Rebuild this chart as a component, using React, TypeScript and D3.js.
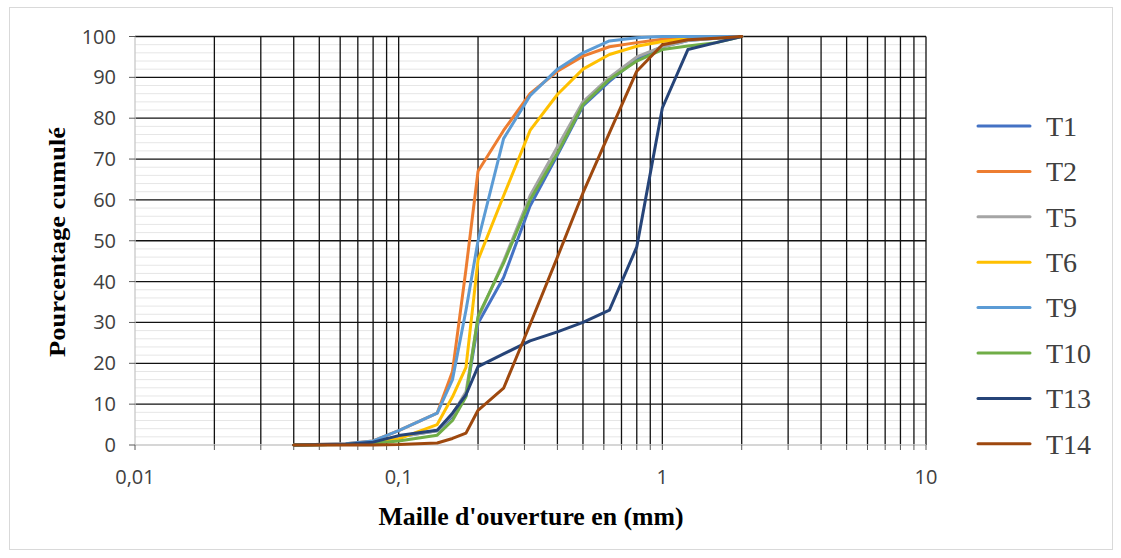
import React from "react";
import * as d3 from "d3";

const W = 1121;
const H = 558;

// sieve openings (mm), shared by all series
const sieves = [0.04, 0.063, 0.08, 0.1, 0.14, 0.16, 0.18, 0.2, 0.25, 0.315, 0.4, 0.5, 0.63, 0.8, 1, 1.25, 1.6, 2];

const t1 = [0, 0.2, 0.8, 2, 3.5, 7, 12, 29.8, 41, 58.5, 71, 83, 89, 94.5, 97.5, 99, 99.6, 100];
const t2 = [0, 0.3, 1, 3.5, 7.8, 18, 43, 67, 77, 86, 91.5, 95.2, 97.5, 98.5, 99.3, 99.8, 100, 100];
const t5 = [0, 0.2, 0.8, 2, 3.5, 7.5, 13, 31, 45, 61, 73, 84, 90, 95, 97.5, 99, 99.6, 100];
const t6 = [0, 0.2, 0.6, 1.5, 5, 11.8, 19, 45.3, 61, 77, 85.8, 92, 95.6, 97.6, 98.8, 99.5, 100, 100];
const t9 = [0, 0.3, 1, 3.5, 7.8, 16, 33, 50, 75, 85.5, 92, 96, 98.9, 99.7, 100, 100, 100, 100];
const t10 = [0, 0.1, 0.4, 1, 2.4, 6, 11.8, 31.5, 44.5, 60, 71.5, 83.3, 89.5, 94, 96.8, 97.7, 98.5, 100];
const t13 = [0, 0.2, 0.7, 2.3, 3.6, 7.8, 12.3, 19.2, 22.3, 25.5, 27.7, 30, 33, 48.5, 82.5, 96.8, 98.5, 100];
const t14 = [0, 0, 0, 0.1, 0.5, 1.6, 2.9, 8.5, 13.9, 29.5, 46, 61.7, 76.4, 91.5, 98, 99.2, 99.6, 100];

const seriesNames = ["T1", "T2", "T5", "T6", "T9", "T10", "T13", "T14"];
const seriesValues = [t1, t2, t5, t6, t9, t10, t13, t14];
const seriesColors = ["#4472C4", "#ED7D31", "#A5A5A5", "#FFC000", "#5B9BD5", "#70AD47", "#264478", "#9E480E"];

const xTickValues = [0.01, 0.1, 1, 10];
const xTickLabels = ["0,01", "0,1", "1", "10"];
const yTickValues = [0, 10, 20, 30, 40, 50, 60, 70, 80, 90, 100];

const x = d3.scaleLog().domain([0.01, 10]).range([135, 926]);
const y = d3.scaleLinear().domain([0, 100]).range([445, 36.5]);

// every 1-9 step in each decade
const logLines: number[] = [];
[0.01, 0.1, 1].forEach((d) => {
  for (let k = 1; k <= 9; k++) logLines.push(d * k);
});
logLines.push(10);

const minorY = d3.range(0, 100, 2).filter((v) => v % 10 !== 0);

const line = d3
  .line<[number, number]>()
  .x((d) => x(d[0]))
  .y((d) => y(d[1]));

export default function App() {
  const [x0, x1] = x.range();
  const [y0, y1] = y.range();
  return (
    <svg width={W} height={H} style={{ position: "absolute", left: 0, top: 0, background: "#fff" }}>
      <rect x={9.5} y={7.5} width={1103} height={542} fill="#fff" stroke="#d9d9d9" />

      {/* minor horizontal grid */}
      {minorY.map((v) => (
        <line key={"my" + v} x1={x0} x2={x1} y1={y(v)} y2={y(v)} stroke="#e6e6e6" strokeWidth={1} />
      ))}
      {/* major horizontal grid */}
      {yTickValues.slice(1).map((v) => (
        <line key={"y" + v} x1={x0} x2={x1} y1={y(v)} y2={y(v)} stroke="#111" strokeWidth={1.3} />
      ))}
      {/* vertical log grid */}
      {logLines.slice(1).map((v) => (
        <line key={"x" + v} x1={x(v)} x2={x(v)} y1={y0} y2={y1} stroke="#111" strokeWidth={1.3} />
      ))}
      {/* axes */}
      <line x1={x0} x2={x0} y1={y0} y2={y1} stroke="#c8c8c8" strokeWidth={1.3} />
      <line x1={x0} x2={x1} y1={y0} y2={y0} stroke="#c8c8c8" strokeWidth={1.3} />
      {logLines.map((v) => (
        <line key={"xt" + v} x1={x(v)} x2={x(v)} y1={y0} y2={y0 + 5} stroke="#595959" strokeWidth={1} />
      ))}
      {yTickValues.map((v) => (
        <line key={"yt" + v} x1={x0 - 6} x2={x0} y1={y(v)} y2={y(v)} stroke="#595959" strokeWidth={1} />
      ))}

      {/* series */}
      {seriesValues.map((vals, i) => (
        <path
          key={seriesNames[i]}
          d={line(sieves.map((s, j) => [s, vals[j]] as [number, number])) || ""}
          fill="none"
          stroke={seriesColors[i]}
          strokeWidth={3}
          strokeLinejoin="round"
          strokeLinecap="round"
        />
      ))}

      {/* tick labels */}
      {yTickValues.map((v) => (
        <text key={"yl" + v} x={116} y={y(v)} dy="0.35em" textAnchor="end" fontFamily="Open Sans" fontSize={20} fill="#404040">
          {v}
        </text>
      ))}
      {xTickValues.map((v, i) => (
        <text key={"xl" + v} x={x(v)} y={477} dy="0.35em" textAnchor="middle" fontFamily="Open Sans" fontSize={20} fill="#404040">
          {xTickLabels[i]}
        </text>
      ))}

      {/* axis titles */}
      <text
        x={531}
        y={516}
        dy="0.35em"
        textAnchor="middle"
        fontFamily="Liberation Serif"
        fontWeight="bold"
        fontSize={26}
        textLength={305}
        lengthAdjust="spacingAndGlyphs"
        fill="#000"
      >
        Maille d'ouverture en (mm)
      </text>
      <text
        transform="translate(57,242) rotate(-90)"
        dy="0.35em"
        textAnchor="middle"
        fontFamily="Liberation Serif"
        fontWeight="bold"
        fontSize={24}
        textLength={230}
        lengthAdjust="spacingAndGlyphs"
        fill="#000"
      >
        Pourcentage cumulé
      </text>

      {/* legend */}
      {seriesNames.map((n, i) => {
        const ly = 126 + i * 45.4;
        return (
          <g key={"lg" + n}>
            <line x1={978} x2={1030} y1={ly} y2={ly} stroke={seriesColors[i]} strokeWidth={3} strokeLinecap="round" />
            <text x={1046} y={ly} dy="0.35em" fontFamily="Liberation Serif" fontSize={28} fill="#404040">
              {n}
            </text>
          </g>
        );
      })}
    </svg>
  );
}
